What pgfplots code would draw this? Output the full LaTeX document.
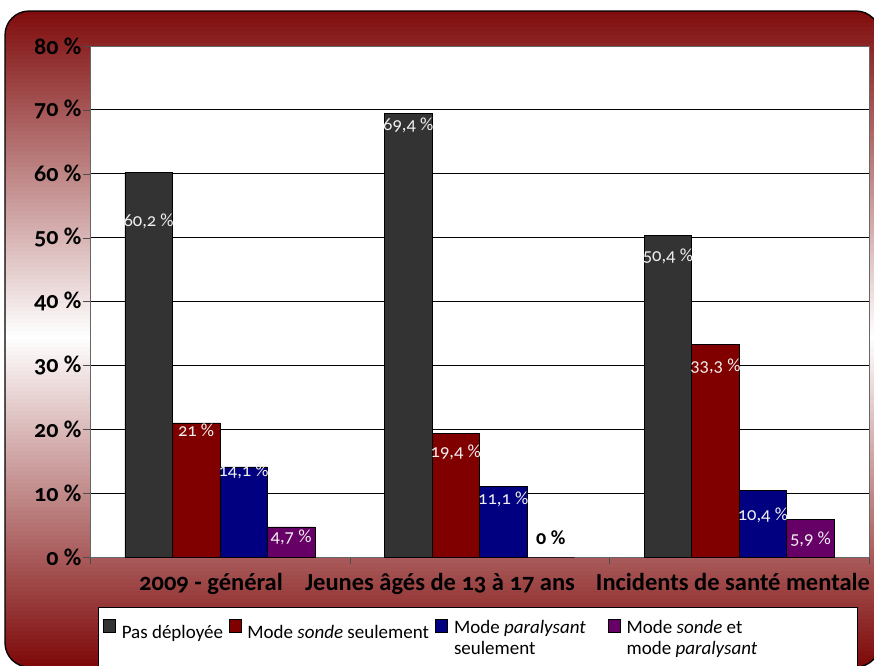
\documentclass[border=0pt]{standalone}
\usepackage{fontspec}
\setmainfont{Carlito}[Numbers=OldStyle]
\usepackage{pgfplots}
\pgfplotsset{compat=1.18}
\usepackage{pgfplotstable}

\definecolor{cGris}{HTML}{333333}
\definecolor{cRouge}{HTML}{800000}
\definecolor{cBleu}{HTML}{000080}
\definecolor{cViolet}{HTML}{660066}
\definecolor{cCadre}{HTML}{7E0A0A}

% x = catégorie, y = valeur (%), off = décalage de l'étiquette sous le haut de la barre
\pgfplotstableread{
x y off
0 60.2 49
1 69.4 12
2 50.4 21
}\pasdeploye
\pgfplotstableread{
x y off
0 21.0 7
1 19.4 19
2 33.3 22
}\sonde
\pgfplotstableread{
x y off
0 14.1 4
1 11.1 13
2 10.4 25
}\paralysant
\pgfplotstableread{
x y off
0 4.7 10
1 0.0 -19
2 5.9 20
}\lesdeux

\newcommand{\etiq}{%
  \pgfmathfloatifflags{\pgfplotspointmeta}{0}%
    {\textcolor{black}{\fontsize{20}{21}\selectfont\bfseries 0~\%}}%
    {\pgfmathprintnumber[fixed,precision=1,use comma]{\pgfplotspointmeta}~\%}}

\begin{document}
\begin{tikzpicture}[x=1pt,y=1pt]
\useasboundingbox (0,0) rectangle (874,665);
% cadre en dégradé (rouge foncé - blanc - rouge foncé)
\begin{scope}
\clip[rounded corners=24pt] (5,-2) rectangle (880,654);
\foreach \i in {0,...,163} {
  \pgfmathsetmacro{\ya}{-2+4*\i}
  \pgfmathsetmacro{\pc}{min(100,abs(\ya+2-328)/328*100)}
  \fill[cCadre!\pc!white] (0,\ya) rectangle (880,\ya+4.4);
}
\end{scope}
\draw[black, line width=1.3pt, rounded corners=24pt] (5,-2) rectangle (880,654);

\begin{axis}[
    at={(90pt,108pt)}, anchor=south west,
    scale only axis, width=779pt, height=511pt,
    clip=false,
    /pgf/number format/assume math mode=true,
    axis background/.style={fill=white},
    axis line style={draw=gray!80!black},
    ybar=0pt, bar width=47.5pt,
    xmin=-0.5, xmax=2.5, ymin=0, ymax=80,
    tick pos=left,
    ytick={0,10,...,80},
    yticklabels={0~\%,10~\%,20~\%,30~\%,40~\%,50~\%,60~\%,70~\%,80~\%},
    yticklabel style={font=\fontsize{24}{26}\selectfont\bfseries, xshift=2pt},
    ytick style={draw=gray!60!black},
    tick align=outside, major tick length=7pt,
    ymajorgrids, grid style={black, line width=0.8pt},
    xtick={-0.5,0.5,1.5,2.5}, xticklabels={},
    xtick style={draw=gray!60!black},
    extra x ticks={-0.034,0.848,1.976},
    extra x tick labels={2009 - général, Jeunes âgés de 13 à 17 ans, Incidents de santé mentale},
    extra x tick style={major tick length=0pt, grid=none,
        xticklabel style={font=\fontsize{24.5}{26}\selectfont\bfseries, yshift=-13pt}},
    nodes near coords=\etiq,
    visualization depends on={\thisrow{off} \as \off},
    every node near coord/.append style={anchor=center, yshift=-\off pt,
        text=white!94!black, font=\fontsize{18.5}{19}\selectfont},
    legend columns=4,
    legend cell align=left,
    legend image code/.code={\draw[#1, draw=black, line width=0.6pt] (0pt,0pt) rectangle (12pt,13pt);},
    legend style={at={(0.0103,-0.0978)}, anchor=north west,
        draw=none, fill=none, font=\fontsize{19}{21}\selectfont,
        inner xsep=5pt, inner ysep=10pt,
        /tikz/every even column/.append style={column sep=2pt},
        /tikz/every odd column/.append style={column sep=4pt}},
]
% cadre blanc de la légende (il dépasse le bas de la figure)
\draw[black, line width=0.8pt, fill=white] (rel axis cs:0.0103,-0.0978) rectangle (rel axis cs:0.9846,-0.25);
\addplot[fill=cGris, draw=black, line width=0.6pt] table[x=x,y=y] {\pasdeploye};
\addlegendentry{\makebox[103pt][l]{Pas déployée}}
\addplot[fill=cRouge, draw=black, line width=0.6pt] table[x=x,y=y] {\sonde};
\addlegendentry{\makebox[184pt][l]{Mode \textit{sonde} seulement}}
\addplot[fill=cBleu, draw=black, line width=0.6pt] table[x=x,y=y] {\paralysant};
\addlegendentry{\makebox[150pt][l]{\begin{tabular}[c]{@{}l@{}}Mode \textit{paralysant}\\seulement\end{tabular}}}
\addplot[fill=cViolet, draw=black, line width=0.6pt] table[x=x,y=y] {\lesdeux};
\addlegendentry{\makebox[210pt][l]{\begin{tabular}[c]{@{}l@{}}Mode \textit{sonde} et\\mode \textit{paralysant}\end{tabular}}}
\end{axis}
\end{tikzpicture}
\end{document}
